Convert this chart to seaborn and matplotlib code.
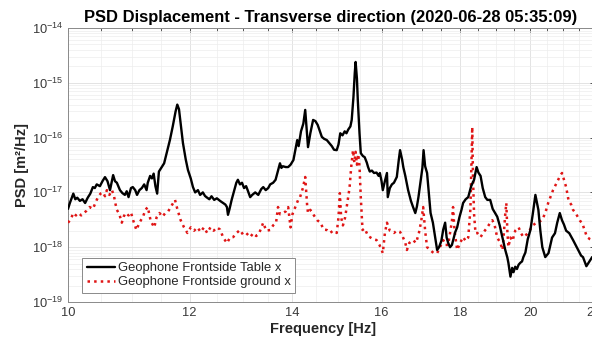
import numpy as np
import pandas as pd
import matplotlib
matplotlib.use("Agg")
import matplotlib.pyplot as plt
import matplotlib.ticker as mticker
import seaborn as sns

# ---------------- data ----------------
freq_table = [
    10.00, 10.03, 10.06, 10.08, 10.11, 10.14, 10.18, 10.22, 10.26, 10.30,
    10.34, 10.38, 10.41, 10.44, 10.49, 10.53, 10.57, 10.61, 10.65, 10.70,
    10.73, 10.76, 10.81, 10.85, 10.89, 10.92, 10.95, 10.99, 11.02, 11.06,
    11.09, 11.13, 11.17, 11.21, 11.25, 11.27, 11.31, 11.34, 11.37, 11.40,
    11.43, 11.46, 11.50, 11.55, 11.60, 11.65, 11.70, 11.75, 11.78, 11.81,
    11.84, 11.88, 11.93, 11.97, 12.02, 12.06, 12.10, 12.15, 12.19, 12.24,
    12.28, 12.32, 12.36, 12.40, 12.45, 12.50, 12.56, 12.62, 12.66, 12.69,
    12.71, 12.74, 12.78, 12.83, 12.87, 12.90, 12.94, 12.98, 13.02, 13.06,
    13.09, 13.14, 13.18, 13.24, 13.30, 13.36, 13.40, 13.45, 13.50, 13.54,
    13.60, 13.65, 13.70, 13.74, 13.77, 13.80, 13.86, 13.91, 13.96, 14.02,
    14.06, 14.10, 14.13, 14.18, 14.23, 14.27, 14.30, 14.33, 14.38, 14.44,
    14.49, 14.54, 14.63, 14.68, 14.74, 14.79, 14.85, 14.90, 14.96, 15.00,
    15.04, 15.09, 15.14, 15.18, 15.22, 15.27, 15.30, 15.34, 15.37, 15.39,
    15.42, 15.44, 15.48, 15.51, 15.56, 15.60, 15.65, 15.68, 15.72, 15.77,
    15.82, 15.88, 15.93, 15.96, 16.00, 16.03, 16.08, 16.13, 16.15, 16.20,
    16.25, 16.30, 16.37, 16.42, 16.45, 16.50, 16.53, 16.58, 16.65, 16.72,
    16.77, 16.83, 16.87, 16.91, 16.96, 17.01, 17.04, 17.08, 17.13, 17.18,
    17.22, 17.28, 17.34, 17.39, 17.44, 17.50, 17.55, 17.60, 17.64, 17.68,
    17.73, 17.78, 17.82, 17.87, 17.92, 17.98, 18.04, 18.08, 18.15, 18.22,
    18.30, 18.38, 18.45, 18.50, 18.56, 18.62, 18.69, 18.75, 18.83, 18.90,
    19.03, 19.10, 19.18, 19.26, 19.32, 19.35, 19.41, 19.46, 19.50, 19.55,
    19.60, 19.65, 19.70, 19.75, 19.79, 19.85, 19.92, 20.00, 20.07, 20.15,
    20.21, 20.24, 20.30, 20.36, 20.42, 20.45, 20.55, 20.66, 20.75, 20.82,
    20.90, 20.97, 21.03, 21.10, 21.20, 21.32, 21.40, 21.48, 21.58, 21.64,
    21.75, 21.85, 21.94, 22.00,
]
psd_table = [
    5.0e-18, 6.5e-18, 8.2e-18, 9.5e-18, 7.5e-18, 8.0e-18, 7.0e-18, 7.5e-18, 6.4e-18, 8.0e-18,
    9.5e-18, 1.25e-17, 1.2e-17, 1.4e-17, 1.3e-17, 1.6e-17, 1.9e-17, 1.6e-17, 1.1e-17, 2.07e-17,
    1.6e-17, 1.5e-17, 1.1e-17, 9.7e-18, 9.0e-18, 1.05e-17, 8.2e-18, 1.2e-17, 1.25e-17, 1.1e-17,
    9.0e-18, 1.1e-17, 1.2e-17, 1.4e-17, 1.1e-17, 1.5e-17, 2.0e-17, 1.8e-17, 2.2e-17, 1.3e-17,
    9.5e-18, 2.4e-17, 2.8e-17, 3.4e-17, 5.5e-17, 9.0e-17, 1.6e-16, 3.0e-16, 4.0e-16, 3.3e-16,
    1.8e-16, 8.0e-17, 4.0e-17, 2.56e-17, 1.8e-17, 1.25e-17, 1.0e-17, 1.1e-17, 9.0e-18, 1.0e-17,
    8.6e-18, 8.0e-18, 7.5e-18, 8.5e-18, 7.3e-18, 7.8e-18, 7.0e-18, 6.4e-18, 6.0e-18, 5.4e-18,
    3.9e-18, 5.0e-18, 7.3e-18, 1.1e-17, 1.5e-17, 1.7e-17, 1.4e-17, 1.5e-17, 1.2e-17, 1.3e-17,
    1.1e-17, 8.2e-18, 9.0e-18, 1.0e-17, 9.0e-18, 1.15e-17, 1.25e-17, 1.1e-17, 1.2e-17, 1.4e-17,
    1.5e-17, 1.7e-17, 2.5e-17, 3.4e-17, 2.8e-17, 3.0e-17, 2.9e-17, 2.9e-17, 3.2e-17, 3.9e-17,
    6.0e-17, 9.0e-17, 7.0e-17, 1.3e-16, 1.8e-16, 3.2e-16, 1.5e-16, 6.7e-17, 1.2e-16, 2.1e-16,
    2.0e-16, 1.7e-16, 1.03e-16, 9.5e-17, 9.0e-17, 8.0e-17, 7.0e-17, 6.0e-17, 5.9e-17, 7.5e-17,
    1.2e-16, 1.1e-16, 1.3e-16, 1.2e-16, 1.4e-16, 1.6e-16, 2.1e-16, 5.5e-16, 1.5e-15, 2.4e-15,
    1.2e-15, 4.9e-16, 1.2e-16, 5.2e-17, 4.6e-17, 4.4e-17, 3.5e-17, 2.9e-17, 2.4e-17, 2.5e-17,
    2.26e-17, 2.3e-17, 2.0e-17, 2.26e-17, 1.6e-17, 1.1e-17, 1.6e-17, 2.26e-17, 8.2e-18, 1.2e-17,
    1.4e-17, 1.5e-17, 1.91e-17, 4.0e-17, 5.9e-17, 4.0e-17, 2.9e-17, 2.0e-17, 1.1e-17, 7.0e-18,
    5.5e-18, 4.2e-18, 5.5e-18, 8.2e-18, 1.5e-17, 2.8e-17, 5.9e-17, 3.0e-17, 2.26e-17, 9.0e-18,
    4.2e-18, 2.8e-18, 1.5e-18, 8.9e-19, 1.0e-18, 1.3e-18, 2.1e-18, 2.8e-18, 1.5e-18, 1.2e-18,
    1.0e-18, 1.1e-18, 1.4e-18, 1.9e-18, 2.3e-18, 3.5e-18, 4.9e-18, 6.4e-18, 7.5e-18, 8.2e-18,
    1.3e-17, 1.7e-17, 2.9e-17, 2.3e-17, 2.0e-17, 1.2e-17, 8.2e-18, 7.3e-18, 7.3e-18, 5.0e-18,
    3.6e-18, 2.5e-18, 1.5e-18, 8.9e-19, 6.5e-19, 5.2e-19, 2.9e-19, 4.2e-19, 3.5e-19, 4.4e-19,
    4.0e-19, 4.8e-19, 5.2e-19, 5.5e-19, 6.6e-19, 8.0e-19, 1.4e-18, 2.06e-18, 4.0e-18, 9.0e-18,
    6.0e-18, 4.8e-18, 2.0e-18, 1.0e-18, 7.5e-19, 6.6e-19, 7.8e-19, 1.5e-18, 1.8e-18, 2.8e-18,
    4.2e-18, 3.1e-18, 2.6e-18, 2.0e-18, 1.8e-18, 1.35e-18, 1.1e-18, 8.9e-19, 7.0e-19, 6.6e-19,
    4.5e-19, 5.5e-19, 6.6e-19, 6.0e-19,
]

freq_ground = [
    10.00, 10.04, 10.08, 10.12, 10.16, 10.20, 10.24, 10.28, 10.33, 10.38,
    10.44, 10.47, 10.50, 10.54, 10.57, 10.60, 10.64, 10.68, 10.71, 10.74,
    10.76, 10.80, 10.84, 10.87, 10.90, 10.95, 10.99, 11.03, 11.08, 11.13,
    11.19, 11.23, 11.27, 11.32, 11.38, 11.42, 11.47, 11.52, 11.57, 11.62,
    11.67, 11.74, 11.78, 11.84, 11.90, 11.96, 12.02, 12.08, 12.14, 12.20,
    12.26, 12.32, 12.38, 12.44, 12.50, 12.56, 12.62, 12.69, 12.75, 12.81,
    12.87, 12.94, 13.00, 13.06, 13.14, 13.20, 13.26, 13.32, 13.40, 13.46,
    13.54, 13.60, 13.66, 13.70, 13.74, 13.80, 13.86, 13.91, 13.96, 14.00,
    14.06, 14.12, 14.16, 14.22, 14.27, 14.31, 14.33, 14.38, 14.44, 14.53,
    14.60, 14.67, 14.74, 14.81, 14.88, 14.96, 15.00, 15.03, 15.06, 15.10,
    15.15, 15.21, 15.25, 15.29, 15.33, 15.36, 15.39, 15.42, 15.45, 15.48,
    15.51, 15.55, 15.60, 15.68, 15.72, 15.80, 15.88, 15.95, 16.00, 16.03,
    16.08, 16.13, 16.20, 16.30, 16.37, 16.45, 16.52, 16.58, 16.62, 16.68,
    16.77, 16.85, 16.92, 16.98, 17.03, 17.08, 17.13, 17.21, 17.30, 17.39,
    17.45, 17.55, 17.60, 17.68, 17.73, 17.78, 17.81, 17.85, 17.92, 18.00,
    18.08, 18.15, 18.22, 18.28, 18.31, 18.33, 18.35, 18.38, 18.42, 18.47,
    18.56, 18.65, 18.75, 18.83, 18.89, 18.95, 19.03, 19.12, 19.18, 19.21,
    19.26, 19.29, 19.32, 19.35, 19.41, 19.47, 19.55, 19.65, 19.72, 19.79,
    19.88, 19.97, 20.07, 20.18, 20.27, 20.36, 20.45, 20.54, 20.62, 20.69,
    20.78, 20.85, 20.91, 20.97, 21.02, 21.10, 21.18, 21.26, 21.32, 21.40,
    21.48, 21.55, 21.61, 21.70, 21.77, 21.87, 21.94, 22.00,
]
psd_ground = [
    2.8e-18, 3.2e-18, 4.2e-18, 3.8e-18, 4.2e-18, 3.8e-18, 4.2e-18, 4.6e-18, 5.4e-18, 5.0e-18,
    7.3e-18, 8.5e-18, 9.5e-18, 1.0e-17, 8.5e-18, 1.1e-17, 9.0e-18, 1.1e-17, 9.0e-18, 6.0e-18,
    4.8e-18, 4.0e-18, 2.8e-18, 3.6e-18, 4.2e-18, 3.8e-18, 4.3e-18, 3.0e-18, 2.06e-18, 2.8e-18,
    3.6e-18, 4.8e-18, 5.4e-18, 3.0e-18, 2.3e-18, 3.5e-18, 4.2e-18, 3.6e-18, 4.2e-18, 4.5e-18,
    5.5e-18, 7.3e-18, 5.0e-18, 3.1e-18, 2.3e-18, 1.82e-18, 2.3e-18, 2.0e-18, 2.3e-18, 1.9e-18,
    2.3e-18, 1.82e-18, 2.3e-18, 2.0e-18, 2.3e-18, 2.1e-18, 1.5e-18, 1.19e-18, 1.5e-18, 1.53e-18,
    1.8e-18, 2.06e-18, 1.7e-18, 1.82e-18, 1.53e-18, 1.8e-18, 1.6e-18, 1.82e-18, 2.8e-18, 2.0e-18,
    2.06e-18, 2.5e-18, 2.8e-18, 5.4e-18, 4.0e-18, 4.2e-18, 4.5e-18, 5.4e-18, 2.3e-18, 4.0e-18,
    5.4e-18, 7.3e-18, 8.2e-18, 1.2e-17, 1.91e-17, 6.0e-18, 4.2e-18, 4.8e-18, 4.0e-18, 3.1e-18,
    2.8e-18, 2.1e-18, 2.06e-18, 1.82e-18, 2.0e-18, 1.82e-18, 3.5e-18, 9.7e-18, 3.5e-18, 2.5e-18,
    3.5e-18, 7.3e-18, 1.2e-17, 3.0e-17, 5.9e-17, 3.5e-17, 5.5e-17, 3.2e-17, 5.0e-17, 3.0e-17,
    8.0e-18, 2.06e-18, 2.2e-18, 1.6e-18, 1.53e-18, 1.4e-18, 1.35e-18, 1.1e-18, 9.0e-19, 7.8e-19,
    1.8e-18, 2.8e-18, 2.0e-18, 1.82e-18, 2.0e-18, 1.9e-18, 1.53e-18, 1.2e-18, 8.9e-19, 1.2e-18,
    1.35e-18, 1.2e-18, 1.8e-18, 3.0e-18, 5.4e-18, 2.0e-18, 1.0e-18, 8.9e-19, 7.8e-19, 7.8e-19,
    9.5e-19, 1.35e-18, 1.1e-18, 1.1e-18, 1.8e-18, 3.0e-18, 5.4e-18, 2.0e-18, 8.9e-19, 1.2e-18,
    1.53e-18, 1.3e-18, 1.5e-18, 5.0e-18, 4.0e-17, 1.56e-16, 2.0e-17, 4.0e-18, 1.8e-18, 1.82e-18,
    1.53e-18, 1.9e-18, 2.3e-18, 2.8e-18, 3.1e-18, 2.6e-18, 1.5e-18, 1.19e-18, 8.9e-19, 1.5e-18,
    4.0e-18, 6.4e-18, 2.0e-18, 1.01e-18, 1.5e-18, 1.3e-18, 2.0e-18, 2.3e-18, 1.8e-18, 1.53e-18,
    1.7e-18, 2.0e-18, 2.5e-18, 2.8e-18, 2.9e-18, 3.2e-18, 4.2e-18, 6.4e-18, 8.5e-18, 1.1e-17,
    1.4e-17, 1.7e-17, 2.0e-17, 2.26e-17, 1.8e-17, 1.25e-17, 7.0e-18, 6.0e-18, 4.8e-18, 4.2e-18,
    3.5e-18, 3.0e-18, 2.8e-18, 2.0e-18, 1.53e-18, 1.4e-18, 1.35e-18, 1.3e-18,
]

label_table = "Geophone Frontside Table x"
label_ground = "Geophone Frontside ground x"
title_text = "PSD Displacement - Transverse direction (2020-06-28 05:35:09)"
xlabel_text = "Frequency [Hz]"
ylabel_text = "PSD [m\u00b2/Hz]"
xtick_values = [10, 12, 14, 16, 18, 20, 22]
xtick_labels = ["10", "12", "14", "16", "18", "20", "22"]

# ---------------- styling ----------------
sns.set_style("white")
plt.rcParams["font.family"] = ["Liberation Sans", "DejaVu Sans"]
plt.rcParams["mathtext.fontset"] = "custom"
plt.rcParams["mathtext.rm"] = "Liberation Sans"
plt.rcParams["mathtext.it"] = "Liberation Sans:italic"
plt.rcParams["mathtext.bf"] = "Liberation Sans:bold"

fig = plt.figure(figsize=(5.92, 3.41), dpi=100)
ax = fig.add_axes([68 / 592, 1 - 302 / 341, 526 / 592, 274 / 341])

df_t = pd.DataFrame({"f": freq_table, "psd": psd_table})
df_g = pd.DataFrame({"f": freq_ground, "psd": psd_ground})

ax.set_xscale("log")
ax.set_yscale("log")

sns.lineplot(data=df_t, x="f", y="psd", ax=ax, color="black", lw=1.7,
             label=label_table, sort=False, zorder=4)
sns.lineplot(data=df_g, x="f", y="psd", ax=ax, color="#e01515", lw=1.8,
             linestyle=":", label=label_ground, sort=False, zorder=3)

ax.set_xlim(10, 22)
ax.set_ylim(1e-19, 1e-14)

# x ticks
ax.xaxis.set_major_locator(mticker.FixedLocator(xtick_values))
ax.xaxis.set_major_formatter(mticker.FixedFormatter(xtick_labels))
minor_x = [v / 2 for v in range(21, 44) if v % 4 != 0]
ax.xaxis.set_minor_locator(mticker.FixedLocator(minor_x))
ax.xaxis.set_minor_formatter(mticker.NullFormatter())
# y ticks
ax.yaxis.set_major_locator(mticker.LogLocator(base=10, numticks=10))
ax.yaxis.set_minor_locator(mticker.LogLocator(base=10, subs=np.arange(2, 10), numticks=20))
ax.yaxis.set_minor_formatter(mticker.NullFormatter())

ax.grid(True, which="major", color="#dedede", lw=0.6)
ax.grid(True, which="minor", color="#ededed", lw=0.5)
ax.set_axisbelow(True)

ax.tick_params(which="both", direction="in", top=True, right=True,
               colors="#3a3a3a", labelsize=9.3, length=3, width=0.6)
ax.tick_params(which="minor", length=1.8)
for s in ax.spines.values():
    s.set_color("#8a8a8a")
    s.set_linewidth(0.7)

ax.set_title(title_text, fontsize=11.9, fontweight="bold", pad=4, color="black")
ax.set_xlabel(xlabel_text, fontsize=10.5, fontweight="bold")
ax.set_ylabel(ylabel_text, fontsize=10.5, fontweight="bold")
ax.xaxis.set_label_coords((323 - 68) / 526, (302 - 322) / 274)
ax.yaxis.set_label_coords((29 - 68) / 526, 0.5)

leg = ax.legend(loc="lower left", bbox_to_anchor=(0.0266, 0.033), borderaxespad=0,
                fontsize=9.4, frameon=True, fancybox=False, framealpha=1,
                edgecolor="#8a8a8a", handlelength=2.2, handletextpad=0.2,
                borderpad=0.35, labelspacing=0.15)
leg.get_frame().set_linewidth(0.7)

fig.savefig("out.png", dpi=100)
